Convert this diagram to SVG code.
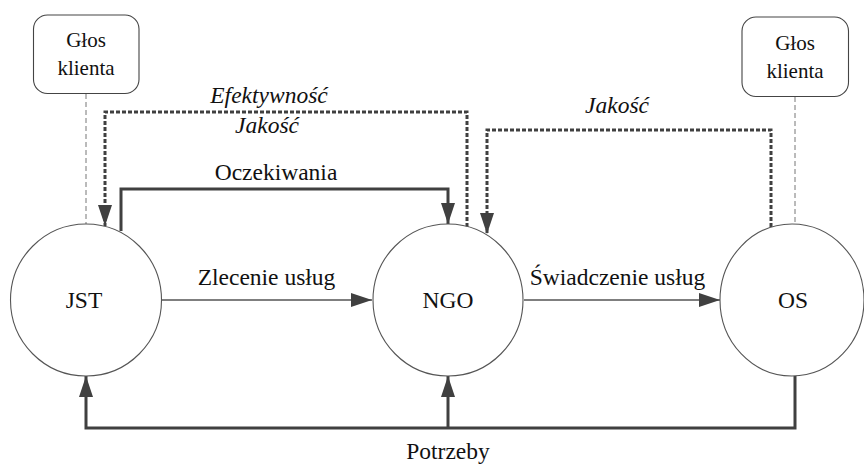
<svg xmlns="http://www.w3.org/2000/svg" width="864" height="468" viewBox="0 0 864 468" font-family="Liberation Serif, Times New Roman, serif">
<style>
  text { fill: #111; }
  .lbl { font-size: 23.5px; text-anchor: middle; }
  .it { font-style: italic; }
  .box-t { font-size: 21px; text-anchor: middle; }
  .node { fill: #fff; stroke: #555; stroke-width: 1.1; }
  .box { fill: #fff; stroke: #444; stroke-width: 1.1; }
  .thin { fill: none; stroke: #555; stroke-width: 1.4; }
  .thick { fill: none; stroke: #404040; stroke-width: 3; }
  .dash { fill: none; stroke: #404040; stroke-width: 3; stroke-dasharray: 4 2; }
  .vdash { fill: none; stroke: #777; stroke-width: 1; stroke-dasharray: 5 3; }
</style>
<defs>
  <marker id="ah" markerUnits="userSpaceOnUse" markerWidth="22" markerHeight="15" refX="21" refY="7" orient="auto">
    <path d="M0,0 L21,7 L0,14 z" fill="#404040"/>
  </marker>
</defs>
<g id="voice-left">
  <rect class="box" x="33.5" y="15" width="105.5" height="78.5" rx="14"/>
  <text class="box-t" x="86" y="47">Głos</text>
  <text class="box-t" x="86" y="75">klienta</text>
</g>
<g id="voice-right">
  <rect class="box" x="742" y="17" width="106.5" height="79.5" rx="14"/>
  <text class="box-t" x="795" y="49.5">Głos</text>
  <text class="box-t" x="795" y="77.5">klienta</text>
</g>
<g id="connectors">
  <path class="vdash" d="M86,94 V224"/>
  <path class="vdash" d="M795,97 V224"/>
  <path class="thin" d="M162,300 H372" marker-end="url(#ah)"/>
  <path class="thin" d="M524,300 H720" marker-end="url(#ah)"/>
  <path class="thick" d="M121,231 V189 H448 V224" marker-end="url(#ah)"/>
  <path class="dash" d="M467,227 V112 H105 V226" marker-end="url(#ah)"/>
  <path class="dash" d="M771,227 V130 H487 V234" marker-end="url(#ah)"/>
  <path class="thick" d="M795,376 V428 H86 V376" marker-end="url(#ah)"/>
  <path class="thick" d="M448,428 V376" marker-end="url(#ah)"/>
  <text class="lbl" x="266.5" y="285">Zlecenie usług</text>
  <text class="lbl" x="617.5" y="285">Świadczenie usług</text>
  <text class="lbl" x="276" y="180">Oczekiwania</text>
  <text class="lbl it" x="269" y="103">Efektywność</text>
  <text class="lbl it" x="267" y="133">Jakość</text>
  <text class="lbl it" x="617" y="113">Jakość</text>
  <text class="lbl" x="448" y="459">Potrzeby</text>
</g>
<g id="JST">
  <ellipse class="node" cx="86" cy="300" rx="75.5" ry="76"/>
  <text class="lbl" x="84" y="308">JST</text>
</g>
<g id="NGO">
  <ellipse class="node" cx="448" cy="300" rx="75" ry="76"/>
  <text class="lbl" x="448" y="308">NGO</text>
</g>
<g id="OS">
  <ellipse class="node" cx="792" cy="300" rx="72" ry="76"/>
  <text class="lbl" x="793" y="308">OS</text>
</g>
</svg>
